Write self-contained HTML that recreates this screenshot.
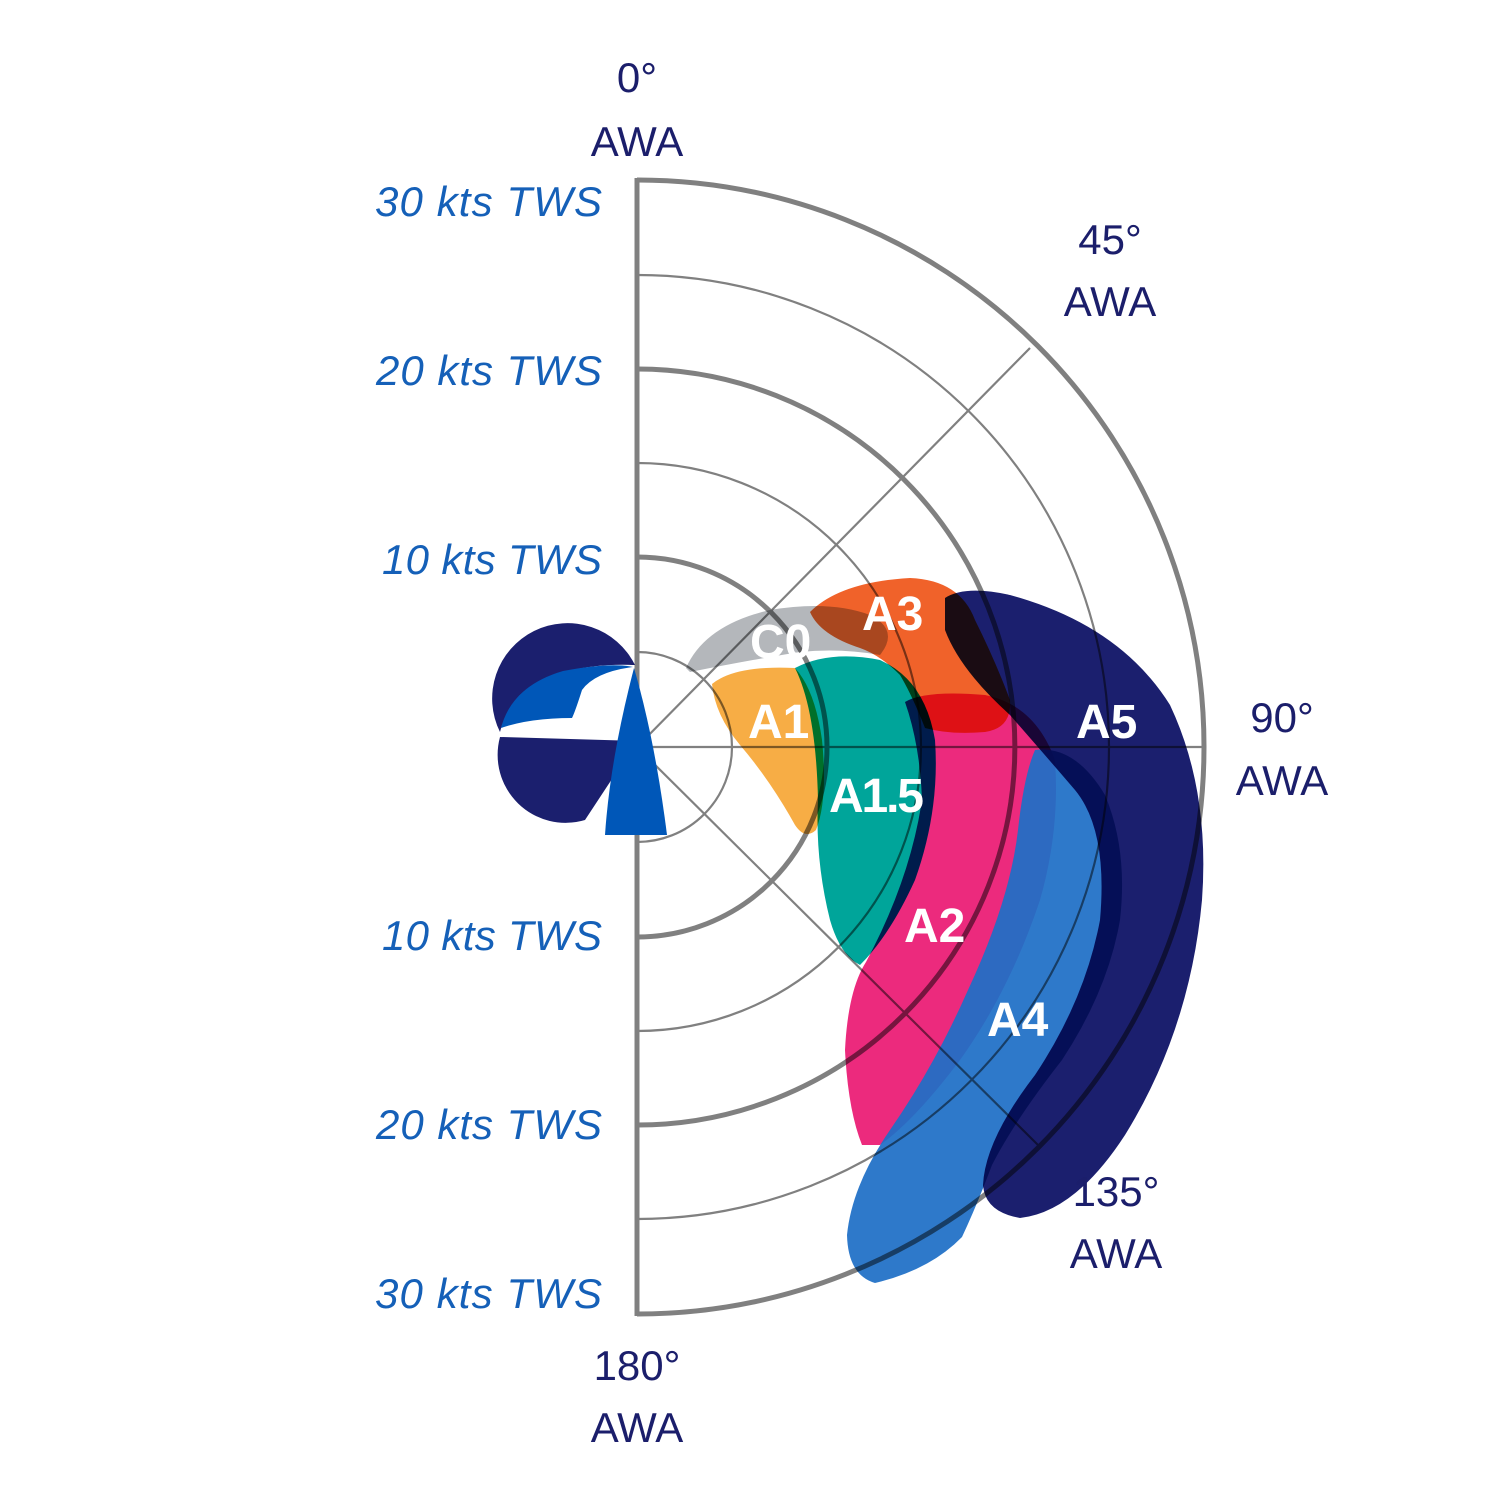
<!DOCTYPE html>
<html><head><meta charset="utf-8"><style>
html,body{margin:0;padding:0;background:#fff;}
svg{display:block;}
.b{font-family:"Liberation Sans",sans-serif;}
</style></head><body>
<svg width="1500" height="1500" viewBox="0 0 1500 1500" xmlns="http://www.w3.org/2000/svg">
<rect width="1500" height="1500" fill="#fff"/>
<g style="isolation:isolate">
<path style="mix-blend-mode:multiply" fill="#b4b7bb" d="M686,668 Q705,625 770,610 Q830,600 870,615 Q900,630 880,655 Q840,648 800,652 Q750,660 690,672 Z"/>
<path style="mix-blend-mode:multiply" fill="#f7ad45" d="M712,684 Q735,665 795,668 Q815,690 822,740 Q828,800 816,830 Q805,840 795,825 Q770,780 740,745 Q715,715 712,684Z"/>
<path style="mix-blend-mode:multiply" fill="#00a59a" d="M795,668 Q830,650 880,660 Q925,680 935,740 Q940,810 915,880 Q890,935 860,965 Q840,955 830,920 Q815,860 818,800 Q816,710 795,668Z"/>
<path style="mix-blend-mode:multiply" fill="#f0622a" d="M810,612 Q840,582 910,578 Q960,580 975,620 Q995,660 1010,700 Q1012,728 985,732 Q950,735 925,728 Q912,695 900,675 Q880,655 860,648 Q820,635 810,612 Z"/>
<path style="mix-blend-mode:multiply" fill="#ec2a7d" d="M905,702 Q925,690 985,695 Q1035,705 1055,760 Q1060,830 1040,900 Q1010,990 960,1060 Q915,1120 880,1145 L862,1145 Q848,1110 845,1050 Q848,990 866,962 Q910,880 922,800 Q920,745 905,702Z"/>
<path fill="#1e6fc6" opacity="0.93" d="M1035,750 Q1075,745 1105,795 Q1128,850 1120,920 Q1108,990 1062,1060 Q1015,1120 992,1165 Q977,1205 962,1237 Q930,1270 875,1283 Q848,1275 847,1235 Q852,1185 890,1130 Q935,1065 968,990 Q1010,900 1018,830 Q1024,775 1035,750Z"/>
<path style="mix-blend-mode:multiply" fill="#1b1f6e" d="M945,598 Q965,585 1010,595 Q1120,625 1170,705 Q1210,790 1202,900 Q1190,1030 1125,1135 Q1075,1212 1020,1218 Q985,1212 983,1185 Q985,1140 1035,1075 Q1085,1000 1100,920 Q1108,830 1075,790 Q1045,755 1010,715 Q960,670 945,630 Z"/>
<g fill="none" stroke="#808080" style="mix-blend-mode:multiply">
<g stroke-width="2.2">
<path d="M637,652 A95,95 0 0 1 637,842"/>
<path d="M637,463 A284,284 0 0 1 637,1031"/>
<path d="M637,275 A472,472 0 0 1 637,1219"/>
<line x1="637" y1="747" x2="1030" y2="348"/>
<line x1="637" y1="747" x2="1039" y2="1146"/>
<line x1="637" y1="747" x2="1204" y2="747"/>
</g>
<g stroke-width="5">
<path d="M637,557 A190,190 0 0 1 637,937"/>
<path d="M637,369 A378,378 0 0 1 637,1125"/>
<path d="M637,180 A567,567 0 0 1 637,1314"/>
<line x1="637" y1="178" x2="637" y2="1316"/>
</g>
</g>
<rect x="560" y="660" width="74" height="180" fill="#fff"/>
</g>
<path fill="#1b1f6e" d="M500,732 A68,68 0 0 1 635,665 Q560,662 520,695 Q505,712 500,732Z"/>
<path fill="#0057b8" d="M501,728 Q512,686 563,671 Q610,662 633,667 Q595,672 582,690 Q575,712 572,718 Q530,718 501,728Z"/>
<path fill="#1b1f6e" d="M500,737 L637,741 L585,820 A68,68 0 0 1 500,737Z"/>
<path fill="#0057b8" d="M634,668 Q655,740 667,835 L605,835 Q610,760 634,668Z"/>
<g class="b" font-weight="bold" fill="#fff" font-size="48">
<text x="750" y="658">C0</text>
<text x="862" y="630">A3</text>
<text x="748" y="738">A1</text>
<text x="829" y="812" textLength="95">A1.5</text>
<text x="1076" y="738">A5</text>
<text x="904" y="942">A2</text>
<text x="987" y="1036">A4</text>
</g>
<g class="b" font-style="italic" fill="#1560b8" font-size="42" text-anchor="end">
<text x="602" y="216" textLength="227">30 kts TWS</text>
<text x="602" y="385" textLength="226">20 kts TWS</text>
<text x="602" y="574" textLength="220">10 kts TWS</text>
<text x="602" y="950" textLength="220">10 kts TWS</text>
<text x="602" y="1139" textLength="226">20 kts TWS</text>
<text x="602" y="1308" textLength="227">30 kts TWS</text>
</g>
<g class="b" fill="#1b1e6b" font-size="42" text-anchor="middle">
<text x="637" y="92">0°</text>
<text x="637" y="156">AWA</text>
<text x="1110" y="254">45°</text>
<text x="1110" y="316">AWA</text>
<text x="1282" y="732">90°</text>
<text x="1282" y="795">AWA</text>
<text x="1116" y="1206">135°</text>
<text x="1116" y="1268">AWA</text>
<text x="637" y="1380">180°</text>
<text x="637" y="1442">AWA</text>
</g>
</svg>
</body></html>
